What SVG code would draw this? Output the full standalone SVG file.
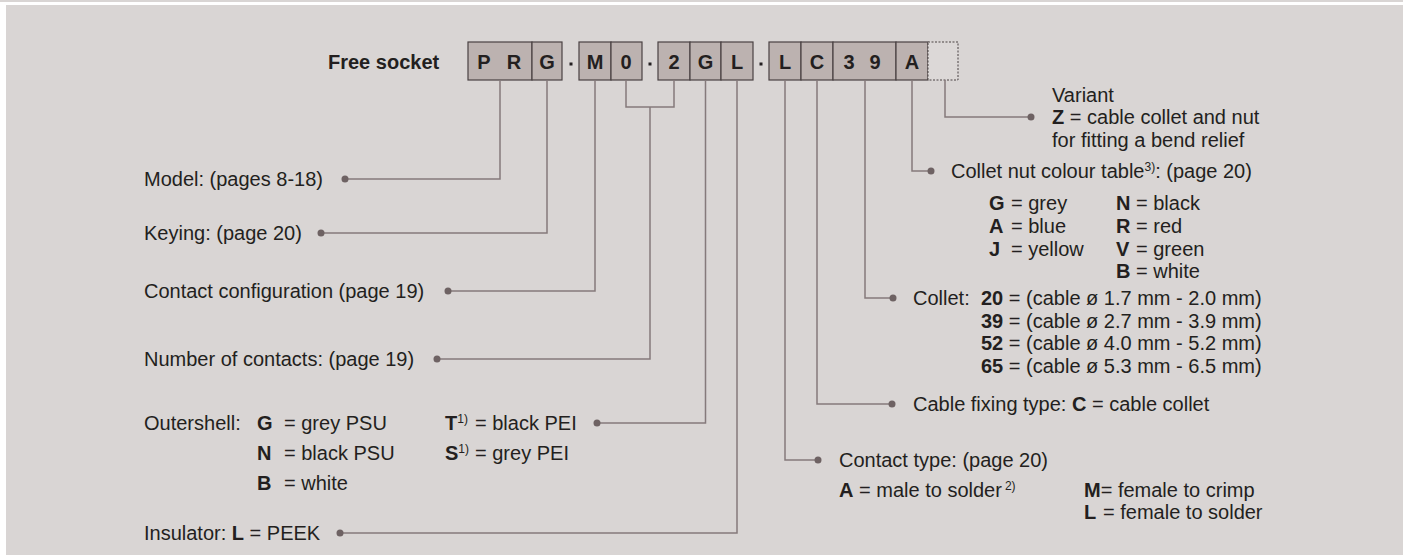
<svg xmlns="http://www.w3.org/2000/svg" width="1403" height="555" viewBox="0 0 1403 555">
<style>
text{font-family:"Liberation Sans",Arial,sans-serif;font-size:20px;fill:#231f20}
.b{font-weight:bold}
.k{font-weight:bold;text-anchor:middle}
.s{font-size:12px}
.box{fill:#bcb2b0;stroke:#4a4243;stroke-width:1.2}
.dotted{fill:#dcd8d7;stroke:#4a4243;stroke-width:1;stroke-dasharray:2 1.5}
.c{fill:none;stroke:#857a7b;stroke-width:1.5}
.d{fill:#6e6263}
.sep{fill:#231f20}
</style>
<rect width="1403" height="555" fill="#ffffff"/>
<rect x="0" y="0" width="1403" height="2" fill="#d9d5d4"/>
<rect x="6" y="5" width="1397" height="550" fill="#d9d5d4"/>

<g id="title"><text class="b" x="328" y="69">Free socket</text></g>

<g id="code">
<rect class="box" x="468" y="42" width="64" height="38"/>
<rect class="box" x="532" y="42" width="30" height="38"/>
<rect class="box" x="579" y="42" width="32" height="38"/>
<rect class="box" x="611" y="42" width="31" height="38"/>
<rect class="box" x="658" y="42" width="32" height="38"/>
<rect class="box" x="690" y="42" width="31" height="38"/>
<rect class="box" x="721" y="42" width="32" height="38"/>
<rect class="box" x="769" y="42" width="32" height="38"/>
<rect class="box" x="801" y="42" width="32" height="38"/>
<rect class="box" x="833" y="42" width="63" height="38"/>
<rect class="box" x="896" y="42" width="32" height="38"/>
<rect class="dotted" x="928" y="42" width="30" height="38"/>
<rect class="sep" x="569.5" y="62.5" width="3" height="3"/>
<rect class="sep" x="648.5" y="62.5" width="3" height="3"/>
<rect class="sep" x="759.5" y="62.5" width="3" height="3"/>
<text class="k" x="484" y="69">P</text>
<text class="k" x="514" y="69">R</text>
<text class="k" x="547" y="69">G</text>
<text class="k" x="595" y="69">M</text>
<text class="k" x="626" y="69">0</text>
<text class="k" x="674" y="69">2</text>
<text class="k" x="705.5" y="69">G</text>
<text class="k" x="737" y="69">L</text>
<text class="k" x="785" y="69">L</text>
<text class="k" x="817" y="69">C</text>
<text class="k" x="849" y="69">3</text>
<text class="k" x="875" y="69">9</text>
<text class="k" x="912" y="69">A</text>
</g>

<g id="connectors">
<path class="c" d="M500 80V179H345"/>
<path class="c" d="M547 80V233H321"/>
<path class="c" d="M595 80V291H448"/>
<path class="c" d="M626 80V107H674V80"/>
<path class="c" d="M650 107V359H437"/>
<path class="c" d="M705.5 80V423H597"/>
<path class="c" d="M737 80V533H340"/>
<path class="c" d="M785 80V460H818"/>
<path class="c" d="M817 80V404H892"/>
<path class="c" d="M865 80V298H893"/>
<path class="c" d="M912 80V171H931"/>
<path class="c" d="M945 80V117H1031"/>
<circle class="d" cx="345" cy="179" r="3.5"/>
<circle class="d" cx="321" cy="233" r="3.5"/>
<circle class="d" cx="448" cy="291" r="3.5"/>
<circle class="d" cx="437" cy="359" r="3.5"/>
<circle class="d" cx="597" cy="423" r="3.5"/>
<circle class="d" cx="340" cy="533" r="3.5"/>
<circle class="d" cx="818" cy="460" r="3.5"/>
<circle class="d" cx="892" cy="404" r="3.5"/>
<circle class="d" cx="893" cy="298" r="3.5"/>
<circle class="d" cx="931" cy="171" r="3.5"/>
<circle class="d" cx="1031" cy="117" r="3.5"/>
</g>

<g id="model"><text x="144" y="186">Model: (pages 8-18)</text></g>
<g id="keying"><text x="144" y="240">Keying: (page 20)</text></g>
<g id="contact-config"><text x="144" y="298">Contact configuration (page 19)</text></g>
<g id="num-contacts"><text x="144" y="366">Number of contacts: (page 19)</text></g>
<g id="outershell">
<text x="144" y="430">Outershell:</text>
<text x="257" y="430"><tspan class="b">G</tspan><tspan x="284">= grey PSU</tspan></text>
<text x="257" y="460"><tspan class="b">N</tspan><tspan x="284">= black PSU</tspan></text>
<text x="257" y="490"><tspan class="b">B</tspan><tspan x="284">= white</tspan></text>
<text x="445" y="430"><tspan class="b">T</tspan><tspan class="s" dy="-7">1)</tspan><tspan x="475" dy="7">= black PEI</tspan></text>
<text x="445" y="460"><tspan class="b">S</tspan><tspan class="s" dy="-7">1)</tspan><tspan x="475" dy="7">= grey PEI</tspan></text>
</g>
<g id="insulator"><text x="144" y="540">Insulator: <tspan class="b">L</tspan> = PEEK</text></g>

<g id="variant">
<text x="1052" y="102">Variant</text>
<text x="1052" y="124"><tspan class="b">Z</tspan> = cable collet and nut</text>
<text x="1052" y="147">for fitting a bend relief</text>
</g>
<g id="collet-nut">
<text x="951" y="178">Collet nut colour table<tspan class="s" dy="-7">3)</tspan><tspan dy="7">: (page 20)</tspan></text>
<text x="989" y="210"><tspan class="b">G</tspan><tspan x="1011">= grey</tspan></text>
<text x="989" y="233"><tspan class="b">A</tspan><tspan x="1011">= blue</tspan></text>
<text x="989" y="256"><tspan class="b">J</tspan><tspan x="1011">= yellow</tspan></text>
<text x="1116" y="210"><tspan class="b">N</tspan><tspan x="1136">= black</tspan></text>
<text x="1116" y="233"><tspan class="b">R</tspan><tspan x="1136">= red</tspan></text>
<text x="1116" y="256"><tspan class="b">V</tspan><tspan x="1136">= green</tspan></text>
<text x="1116" y="278"><tspan class="b">B</tspan><tspan x="1136">= white</tspan></text>
</g>
<g id="collet">
<text x="913" y="305">Collet:</text>
<text x="981" y="305"><tspan class="b">20</tspan> = (cable ø 1.7 mm - 2.0 mm)</text>
<text x="981" y="328"><tspan class="b">39</tspan> = (cable ø 2.7 mm - 3.9 mm)</text>
<text x="981" y="350"><tspan class="b">52</tspan> = (cable ø 4.0 mm - 5.2 mm)</text>
<text x="981" y="373"><tspan class="b">65</tspan> = (cable ø 5.3 mm - 6.5 mm)</text>
</g>
<g id="cable-fixing"><text x="913" y="411">Cable fixing type: <tspan class="b">C</tspan> = cable collet</text></g>
<g id="contact-type">
<text x="839" y="467">Contact type: (page 20)</text>
<text x="839" y="497"><tspan class="b">A</tspan> = male to solder<tspan class="s" dx="3" dy="-7">2)</tspan></text>
<text x="1084" y="497"><tspan class="b">M</tspan>= female to crimp</text>
<text x="1084" y="519"><tspan class="b">L</tspan> <tspan x="1103">= female to solder</tspan></text>
</g>
</svg>
